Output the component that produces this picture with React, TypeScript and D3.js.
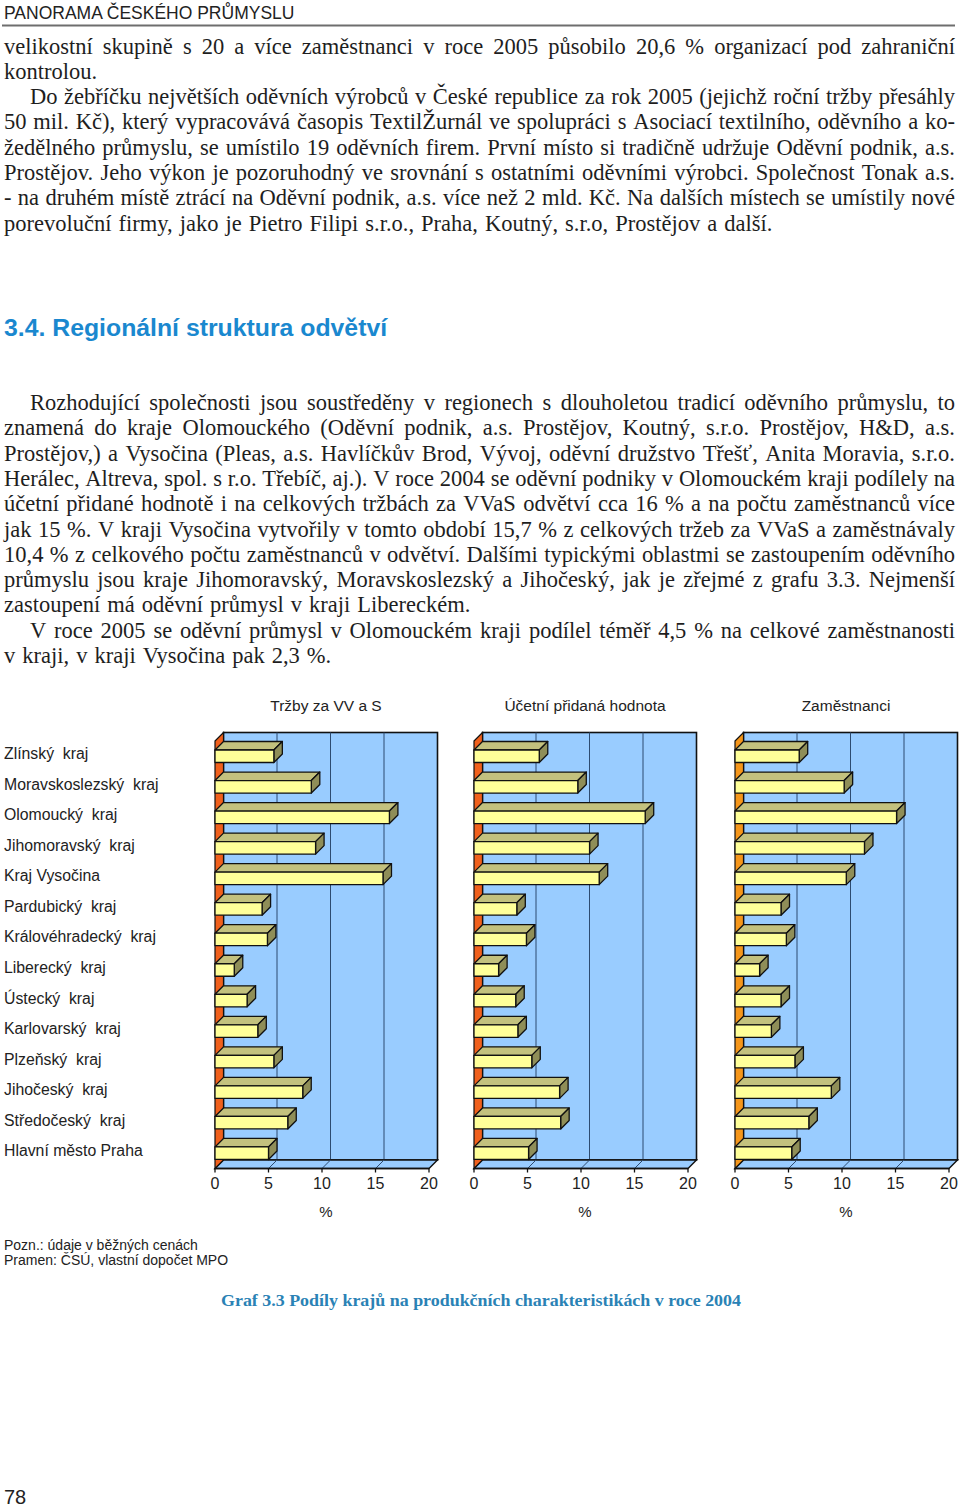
import React from "react";
import * as d3 from "d3";

// ---------- DATA ----------
const regions = [
  "Zlínský  kraj",
  "Moravskoslezský  kraj",
  "Olomoucký  kraj",
  "Jihomoravský  kraj",
  "Kraj Vysočina",
  "Pardubický  kraj",
  "Královéhradecký  kraj",
  "Liberecký  kraj",
  "Ústecký  kraj",
  "Karlovarský  kraj",
  "Plzeňský  kraj",
  "Jihočeský  kraj",
  "Středočeský  kraj",
  "Hlavní město Praha",
];
const trzby = [5.5, 9.0, 16.3, 9.4, 15.7, 4.4, 4.9, 1.8, 3.0, 4.0, 5.5, 8.2, 6.8, 5.0];
const pridanaHodnota = [6.1, 9.7, 16.0, 10.8, 11.7, 4.0, 4.9, 2.3, 3.9, 4.1, 5.4, 8.0, 8.1, 5.1];
const zamestnanci = [6.0, 10.2, 15.1, 12.1, 10.4, 4.3, 4.8, 2.3, 4.3, 3.4, 5.6, 9.0, 6.9, 5.3];
const panelTitles = ["Tržby za VV a S", "Účetní přidaná hodnota", "Zaměstnanci"];
const tickValues = [0, 5, 10, 15, 20];

const para1 = [
  "velikostní skupině s 20 a více zaměstnanci v roce 2005 působilo 20,6 % organizací pod zahraniční",
  "kontrolou.",
];
const para2 = [
  "Do žebříčku největších oděvních výrobců v České republice za rok 2005 (jejichž roční tržby přesáhly",
  "50 mil. Kč), který vypracovává časopis TextilŽurnál ve spolupráci s Asociací textilního, oděvního a ko-",
  "žedělného průmyslu, se umístilo 19 oděvních firem. První místo si tradičně udržuje Oděvní podnik, a.s.",
  "Prostějov. Jeho výkon je pozoruhodný ve srovnání s ostatními oděvními výrobci. Společnost Tonak a.s.",
  "- na druhém místě ztrácí na Oděvní podnik, a.s. více než 2 mld. Kč. Na dalších místech se umístily nové",
  "porevoluční firmy, jako je Pietro Filipi s.r.o., Praha, Koutný, s.r.o, Prostějov a další.",
];
const para3 = [
  "Rozhodující společnosti jsou soustředěny v regionech s dlouholetou tradicí oděvního průmyslu, to",
  "znamená do kraje Olomouckého (Oděvní podnik, a.s. Prostějov, Koutný, s.r.o. Prostějov, H&D, a.s.",
  "Prostějov,) a Vysočina (Pleas, a.s. Havlíčkův Brod, Vývoj, oděvní družstvo Třešť, Anita Moravia, s.r.o.",
  "Herálec, Altreva, spol. s r.o. Třebíč, aj.). V roce 2004 se oděvní podniky v Olomouckém kraji podílely na",
  "účetní přidané hodnotě i na celkových tržbách za VVaS odvětví cca 16 % a na počtu zaměstnanců více",
  "jak 15 %. V kraji Vysočina vytvořily v tomto období 15,7 % z celkových tržeb za VVaS a zaměstnávaly",
  "10,4 % z celkového počtu zaměstnanců v odvětví. Dalšími typickými oblastmi se zastoupením oděvního",
  "průmyslu jsou kraje Jihomoravský, Moravskoslezský a Jihočeský, jak je zřejmé z grafu 3.3. Nejmenší",
  "zastoupení má oděvní průmysl v kraji Libereckém.",
];
const para4 = [
  "V roce 2005 se oděvní průmysl v Olomouckém kraji podílel téměř 4,5 % na celkové zaměstnanosti",
  "v kraji, v kraji Vysočina pak 2,3 %.",
];

// ---------- LAYOUT ----------
const W = 960;
const H = 1508;
const BODY_FONT = "22.5px 'Liberation Serif'";
const BODY_SIZE = 22.5;
const LINE_H = 25.3;
const RIGHT = 955;
const LEFT = 4;
const INDENT = 30;

let _ctx: CanvasRenderingContext2D | null = null;
function measure(t: string, font: string) {
  if (!_ctx) _ctx = document.createElement("canvas").getContext("2d");
  _ctx!.font = font;
  return _ctx!.measureText(t).width;
}

type Line = { text: string; x: number; y: number; justify: boolean };

function buildParagraph(lines: string[], y0: number, indentFirst: boolean): Line[] {
  return lines.map((t, i) => ({
    text: t,
    x: i === 0 && indentFirst ? INDENT : LEFT,
    y: y0 + i * LINE_H,
    justify: i < lines.length - 1,
  }));
}

function BodyLine({ line }: { line: Line }) {
  const words = line.text.split(" ");
  const spaceW = measure(" ", BODY_FONT);
  const widths = words.map((w) => measure(w, BODY_FONT));
  const sum = d3.sum(widths);
  let gap: number;
  if (line.justify && words.length > 1) {
    gap = (RIGHT - line.x - sum) / (words.length - 1);
  } else {
    gap = spaceW + 1.4;
  }
  let x = line.x;
  const xs = widths.map((w) => {
    const cur = x;
    x += w + gap;
    return cur;
  });
  return (
    <text y={line.y} fontFamily="'Liberation Serif', serif" fontSize={BODY_SIZE} fill="#1e1e1e">
      {words.map((w, i) => (
        <tspan key={i} x={xs[i]}>
          {w}
        </tspan>
      ))}
    </text>
  );
}

const TOP = 741;
const BOTTOM = 1168.5;
const DEPTH = 8.5;
const PLOT_W = 214;

function Panel({
  x0,
  values,
  title,
  wallColor,
}: {
  x0: number;
  values: number[];
  title: string;
  wallColor: string;
}) {
  const x = d3.scaleLinear().domain([0, 20]).range([x0, x0 + PLOT_W]);
  const y = d3.scaleBand<string>().domain(regions).range([TOP, BOTTOM]);
  const D = DEPTH;
  const line = d3.line();
  const poly = (pts: [number, number][]) => line(pts)! + "Z";
  const cx = x0 + 111;
  return (
    <g>
      <text
        x={cx}
        y={710.5}
        textAnchor="middle"
        fontFamily="'Liberation Sans', Arial, sans-serif"
        fontSize={15.5}
        fill="#222"
      >
        {title}
      </text>
      {/* back wall */}
      <rect
        x={x(0) + D}
        y={TOP - D}
        width={PLOT_W}
        height={BOTTOM - TOP}
        fill="#99ccff"
        stroke="#111"
        strokeWidth={1.6}
      />
      {tickValues.slice(1, -1).map((t) => (
        <line
          key={t}
          x1={x(t) + D}
          x2={x(t) + D}
          y1={TOP - D}
          y2={BOTTOM - D}
          stroke="#2d4b70"
          strokeWidth={1}
        />
      ))}
      {/* floor */}
      <path
        d={poly([
          [x(0), BOTTOM],
          [x(20), BOTTOM],
          [x(20) + D, BOTTOM - D],
          [x(0) + D, BOTTOM - D],
        ])}
        fill="#99ccff"
        stroke="#111"
        strokeWidth={1.4}
      />
      {tickValues.slice(1, -1).map((t) => (
        <line
          key={"f" + t}
          x1={x(t)}
          y1={BOTTOM}
          x2={x(t) + D}
          y2={BOTTOM - D}
          stroke="#2d4b70"
          strokeWidth={1}
        />
      ))}
      {/* left wall */}
      <path
        d={poly([
          [x(0), TOP],
          [x(0) + D, TOP - D],
          [x(0) + D, BOTTOM - D],
          [x(0), BOTTOM],
        ])}
        fill={wallColor}
        stroke="#111"
        strokeWidth={1.2}
      />
      {/* bars */}
      {regions.map((r, i) => {
        const by = (y(r) as number) + 9;
        const bh = 12.5;
        const xr = x(values[i]);
        const xl = x(0);
        return (
          <g key={r} stroke="#111" strokeWidth={1.3} strokeLinejoin="round">
            <path
              d={poly([
                [xl, by],
                [xl + D, by - D],
                [xr + D, by - D],
                [xr, by],
              ])}
              fill="#c3c17e"
            />
            <path
              d={poly([
                [xr, by],
                [xr + D, by - D],
                [xr + D, by + bh - D],
                [xr, by + bh],
              ])}
              fill="#8f8e58"
            />
            <rect x={xl} y={by} width={xr - xl} height={bh} fill="#ffff99" />
          </g>
        );
      })}
      {/* front axis */}
      <line x1={x(0)} x2={x(20)} y1={BOTTOM} y2={BOTTOM} stroke="#111" strokeWidth={1.6} />
      {tickValues.map((t) => (
        <g key={"t" + t}>
          <line x1={x(t)} x2={x(t)} y1={BOTTOM} y2={BOTTOM + 4} stroke="#111" strokeWidth={1.3} />
          <text
            x={x(t)}
            y={1188.5}
            textAnchor="middle"
            fontFamily="'Liberation Sans', Arial, sans-serif"
            fontSize={16}
            fill="#222"
          >
            {t}
          </text>
        </g>
      ))}
      <text
        x={cx}
        y={1217}
        textAnchor="middle"
        fontFamily="'Liberation Sans', Arial, sans-serif"
        fontSize={15}
        fill="#222"
      >
        %
      </text>
    </g>
  );
}

export default function App() {
  const lines: Line[] = [
    ...buildParagraph(para1, 53.5, false),
    ...buildParagraph(para2, 53.5 + 2 * LINE_H, true),
    ...buildParagraph(para3, 410, true),
    ...buildParagraph(para4, 410 + 9 * LINE_H, true),
  ];
  const yb = d3.scaleBand<string>().domain(regions).range([TOP, BOTTOM]);
  const sans = "'Liberation Sans', Arial, sans-serif";
  return (
    <svg
      width={W}
      height={H}
      viewBox={`0 0 ${W} ${H}`}
      style={{ position: "absolute", left: 0, top: 0, background: "#fff" }}
    >
      <rect width={W} height={H} fill="#fff" />
      <text x={4} y={18.5} fontFamily={sans} fontSize={17.5} fill="#222">
        PANORAMA ČESKÉHO PRŮMYSLU
      </text>
      <line x1={2} x2={955} y1={25.5} y2={25.5} stroke="#6e6e6e" strokeWidth={2} />
      {lines.map((l, i) => (
        <BodyLine key={i} line={l} />
      ))}
      <text x={4} y={336} fontFamily={sans} fontWeight="bold" fontSize={24.8} fill="#1a88cf">
        3.4. Regionální struktura odvětví
      </text>
      {/* category labels */}
      {regions.map((r) => (
        <text
          key={r}
          x={4}
          y={(yb(r) as number) + yb.bandwidth() / 2 + 3}
          fontFamily={sans}
          fontSize={15.8}
          fill="#222"
          style={{ whiteSpace: "pre" }}
        >
          {r}
        </text>
      ))}
      <Panel x0={215} values={trzby} title={panelTitles[0]} wallColor="#f0601c" />
      <Panel x0={474} values={pridanaHodnota} title={panelTitles[1]} wallColor="#f0601c" />
      <Panel x0={735} values={zamestnanci} title={panelTitles[2]} wallColor="#f5961a" />
      <text x={4} y={1250} fontFamily={sans} fontSize={14} fill="#222">
        Pozn.: údaje v běžných cenách
      </text>
      <text x={4} y={1265} fontFamily={sans} fontSize={14} fill="#222">
        Pramen: ČSÚ, vlastní dopočet MPO
      </text>
      <text
        x={221}
        y={1306}
        fontFamily="'Liberation Serif', serif"
        fontWeight="bold"
        fontSize={17}
        fill="#2a82b5"
        textLength={520}
        lengthAdjust="spacingAndGlyphs"
      >
        Graf 3.3 Podíly krajů na produkčních charakteristikách v roce 2004
      </text>
      <text x={4} y={1504} fontFamily={sans} fontSize={20} fill="#222">
        78
      </text>
    </svg>
  );
}
